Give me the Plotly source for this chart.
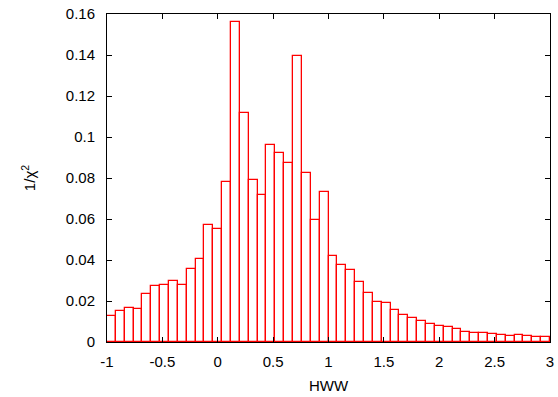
import plotly.graph_objects as go

# Histogram bin centres (HWW), bin width 0.08
bin_centers = [-0.96, -0.88, -0.80, -0.72, -0.64, -0.56, -0.48, -0.40, -0.32, -0.24,
               -0.16, -0.08, 0.00, 0.08, 0.16, 0.24, 0.32, 0.40, 0.48, 0.56,
               0.64, 0.72, 0.80, 0.88, 0.96, 1.04, 1.12, 1.20, 1.28, 1.36,
               1.44, 1.52, 1.60, 1.68, 1.76, 1.84, 1.92, 2.00, 2.08, 2.16,
               2.24, 2.32, 2.40, 2.48, 2.56, 2.64, 2.72, 2.80, 2.88, 2.96]
bin_width = 0.08

inv_chi2 = [0.0128, 0.0149, 0.0166, 0.0161, 0.0232, 0.0271, 0.0278, 0.0299, 0.0278, 0.0358,
            0.0405, 0.0572, 0.0551, 0.0779, 0.1559, 0.1117, 0.0792, 0.0719, 0.0959, 0.0920,
            0.0873, 0.1395, 0.0822, 0.0597, 0.0733, 0.0421, 0.0377, 0.0351, 0.0293, 0.0239,
            0.0193, 0.0190, 0.0156, 0.0130, 0.0117, 0.0102, 0.0087, 0.0078, 0.0071, 0.0062,
            0.0050, 0.0044, 0.0042, 0.0037, 0.0034, 0.0027, 0.0034, 0.0029, 0.0024, 0.0024]

x_ticks = [-1, -0.5, 0, 0.5, 1, 1.5, 2, 2.5, 3]
x_tick_labels = ["-1", "-0.5", "0", "0.5", "1", "1.5", "2", "2.5", "3"]
y_ticks = [0, 0.02, 0.04, 0.06, 0.08, 0.1, 0.12, 0.14, 0.16]
y_tick_labels = ["0", "0.02", "0.04", "0.06", "0.08", "0.1", "0.12", "0.14", "0.16"]

fig = go.Figure()
fig.add_trace(go.Bar(
    x=bin_centers, y=inv_chi2, width=[bin_width] * len(bin_centers),
    marker=dict(color="white", line=dict(color="red", width=1.3)),
    showlegend=False,
))

font = dict(family="Liberation Sans, Arial, sans-serif", size=15, color="black")
axis_common = dict(
    showgrid=False, zeroline=False, showline=True, linecolor="black", linewidth=1,
    mirror="allticks", ticks="inside", ticklen=5, tickwidth=1, tickcolor="black",
    tickfont=font, automargin=False,
)
fig.update_layout(
    width=558, height=397,
    margin=dict(l=107, r=8, t=14, b=55),
    paper_bgcolor="white", plot_bgcolor="white",
    bargap=0,
    font=font,
    xaxis=dict(range=[-1, 3], tickvals=x_ticks, ticktext=x_tick_labels,
               ticklabelstandoff=6,
               title=dict(text="HWW", font=font, standoff=11), **axis_common),
    yaxis=dict(range=[0, 0.16], tickvals=y_ticks, ticktext=y_tick_labels,
               ticklabelstandoff=8,
               title=dict(text="1/χ<sup>2</sup>", font=font, standoff=26), **axis_common),
)
fig.write_html("out.html")
